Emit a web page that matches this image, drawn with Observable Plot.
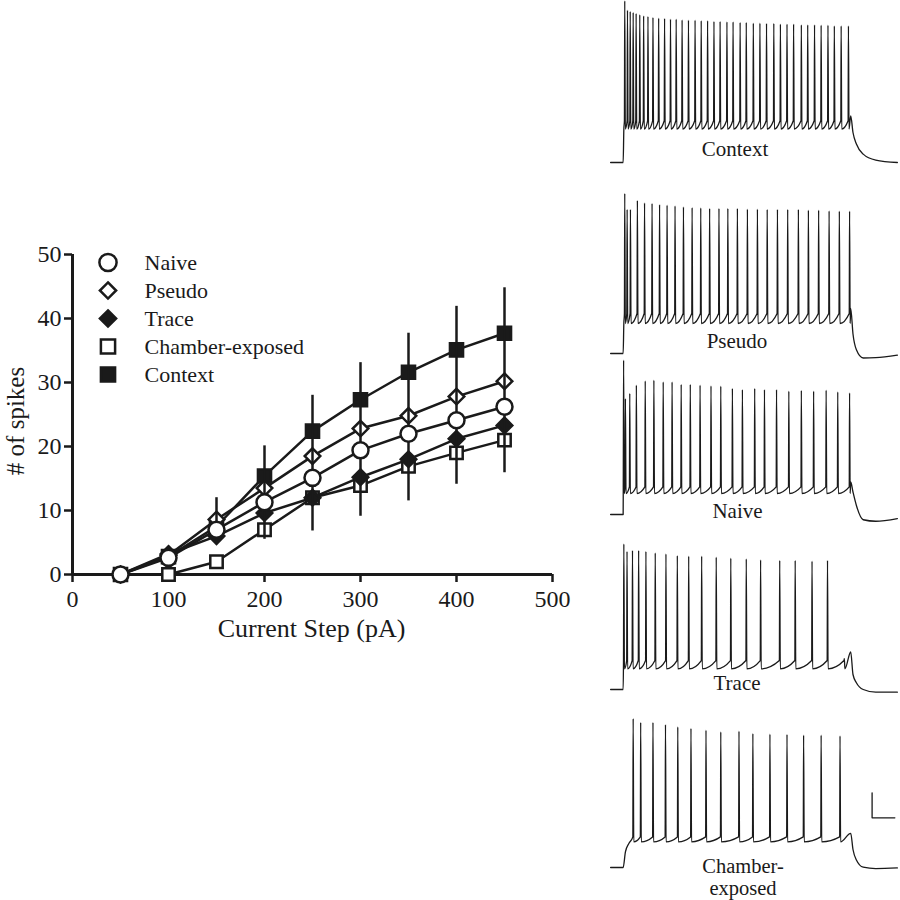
<!DOCTYPE html>
<html><head><meta charset="utf-8">
<script src="https://cdn.jsdelivr.net/npm/d3@7"></script>
<script src="https://cdn.jsdelivr.net/npm/@observablehq/plot@0.6"></script>
<style>
html,body{margin:0;padding:0;background:#fff;overflow:hidden;}
#fig{position:relative;width:900px;height:900px;font-family:"Liberation Serif","Times New Roman",serif;color:#1a1a1a;}
#fig > svg, #fig > div{position:absolute;}
.lbl{line-height:1;white-space:nowrap;text-align:center;}
</style></head><body><div id="fig"></div>
<script>
// ---------- Left chart data (# of spikes vs current step) ----------
const currents = [50, 100, 150, 200, 250, 300, 350, 400, 450];
const seriesNames = ["Naive", "Pseudo", "Trace", "Chamber-exposed", "Context"];
const naive   = [0, 2.6, 7.0, 11.3, 15.1, 19.4, 22.0, 24.1, 26.2];
const pseudo  = [0, 3.0, 8.6, 13.5, 18.5, 22.8, 24.8, 27.8, 30.2];
const trace   = [0, 3.2, 6.0, 9.6, 12.0, 15.2, 18.0, 21.2, 23.3];
const chamber = [0, 0.0, 2.0, 7.0, 12.0, 13.9, 16.9, 19.0, 21.0];
const context = [0, 2.8, 7.5, 15.4, 22.4, 27.3, 31.6, 35.1, 37.7];
const barTop    = [0, 3.5, 12.0, 20.1, 28.0, 33.1, 37.7, 41.9, 44.8];
const barBottom = [0, 2.0, 4.9, 5.5, 6.8, 9.1, 11.5, 14.1, 15.9];
const xTicks = [0, 100, 200, 300, 400, 500];
const yTicks = [0, 10, 20, 30, 40, 50];

// ---------- Right panel data (membrane potential traces) ----------
const traceNames = ["Context", "Pseudo", "Naive", "Trace", "Chamber-exposed"];
// spike times (ms from step onset) and spike peaks (mV)
const contextSpikeT = [7,19,31,44,57,73,90,109,131,156,182,208,233,259,287,316,343,371,399,426,456,483,514,541,572,601,630,662,691,720,749,783,811,841,870,900,928,958,990];
const contextSpikeV = [37.8,31.6,30.7,30.0,29.4,28.5,27.8,27.4,26.7,26.2,26.0,25.6,25.6,25.1,24.9,24.9,24.5,24.5,24.0,24.0,23.8,23.8,23.4,23.4,22.9,22.9,22.7,22.7,22.3,22.3,22.3,21.8,21.8,21.8,21.6,21.6,21.1,21.1,21.1];
const pseudoSpikeT = [7,17.5,32,62.5,94,127,160,193,228,265,303,341,380,421,460,502,546,590,633,678,723,770,814,859,905,950,995];
const pseudoSpikeV = [36.7,26,26,32,30.4,30,29.3,28.9,28.4,27.7,27.3,27.1,26.7,26.7,26.7,26.7,26.2,26.2,26,26,26,26,25.6,25.6,25.1,24.9,24.9];
const naiveSpikeT = [2,10,29,58,97,135,176,215,255,295,338,386,429,480,524,578,621,674,728,783,837,892,943,995];
const naiveSpikeV = [32.9,7.3,10.7,16.2,19.1,19.5,18.4,18.4,16.7,16.7,16.2,15.7,15.5,14,13.3,14,13.3,13.3,12.2,12.7,12.2,12.9,11.7,11.1];
const traceSpikeT = [3,17,41,68,100,141,188,238,288,345,409,473,541,604,688,756,830,898,972];
const traceSpikeV = [27.1,22,22.7,22.7,22,21.1,20.4,19.3,18.9,18.9,18.2,17.6,17.1,16.4,16,16,15.6,16,-49.5];
const chamberSpikeT = [44,77,131,186,240,298,364,429,509,570,645,720,793,870,953];
const chamberSpikeV = [29.3,26.7,26.7,25.3,23.7,22.7,21.5,20.4,20.9,19.3,18.9,18.7,18.2,18.2,17.7];
// inter-spike trough and threshold levels (mV), same order as traceNames
const ahpTrough = [-47.7, -50, -56, -56.2, -52.9];
const spikeThreshold = [-42.2, -43.3, -51.6, -50.7, -49.6];
// onset (rise) of each trace
const contextRiseT = [-55, 0, 3],      contextRiseV = [-70, -70, -48];
const pseudoRiseT  = [-55, 0, 3],      pseudoRiseV  = [-70, -70, -50];
const naiveRiseT   = [-55, 0],         naiveRiseV   = [-70, -70];
const traceRiseT   = [-55, 0],         traceRiseV   = [-70, -70];
const chamberRiseT = [-55, 0, 10, 25], chamberRiseV = [-70, -70, -59.6, -54];
// end of step and return to rest
const decayT = [1000, 1010, 1025, 1055, 1110, 1205];
const contextDecay = [-38.9, -50, -57.7, -64.4, -68.4, -70];
const pseudoDecay  = [-40, -57, -67.5, -73, -72.8, -71.1];
const naiveDecay   = [-48.3, -55, -64, -73.5, -74.5, -72.7];
const traceDecay   = [-45, -60, -65.5, -70, -71.8, -71.8];
const chamberDecay = [-47.3, -58, -65, -69.8, -70.7, -70.3];
// scale bar: 100 ms, 16.7 mV
const scaleBarSize = [100, 16.7];
const scaleBarAnchor = [1094, -36.9];

// ---------- layout ----------
const ink = "#1a1a1a";
const fig = document.getElementById("fig");
const serif = "'Liberation Serif','Times New Roman',serif";

// Left chart
const seriesValues = [naive, pseudo, trace, chamber, context];
const rows = seriesNames.flatMap((s, k) => currents.map((c, i) => ({series: s, current: c, spikes: seriesValues[k][i]})));
const bars = currents.map((c, i) => ({current: c, lo: barBottom[i], hi: barTop[i]})).filter(d => d.hi > d.lo);
const of = name => rows.filter(d => d.series === name);
const dotStyle = {x: "current", y: "spikes", stroke: ink, strokeWidth: 2.5};

const chart = Plot.plot({
  width: 580, height: 430,
  marginLeft: 72, marginRight: 28, marginTop: 24, marginBottom: 86,
  style: {fontFamily: serif, fontSize: "24px", background: "transparent", color: ink, overflow: "visible"},
  x: {domain: [0, 500]},
  y: {domain: [0, 50]},
  marks: [
    Plot.axisX({ticks: xTicks, tickSize: 8, tickPadding: 7, strokeWidth: 2.5, label: null, fontSize: 24, fill: ink}),
    Plot.axisY({ticks: yTicks, tickSize: 8, tickPadding: 3, strokeWidth: 2.5, label: null, fontSize: 24, fill: ink}),
    Plot.ruleX([0], {stroke: ink, strokeWidth: 3}),
    Plot.ruleY([0], {stroke: ink, strokeWidth: 3}),
    Plot.line(rows, {x: "current", y: "spikes", z: "series", stroke: ink, strokeWidth: 2.5}),
    Plot.dot(of("Context"), {...dotStyle, symbol: "square", r: 7.4, fill: ink}),
    Plot.dot(of("Chamber-exposed"), {...dotStyle, symbol: "square", r: 7, fill: "white"}),
    Plot.dot(of("Trace"), {...dotStyle, symbol: "diamond2", r: 7, fill: ink}),
    Plot.dot(of("Pseudo"), {...dotStyle, symbol: "diamond2", r: 7, fill: "white"}),
    Plot.ruleX(bars, {x: "current", y1: "lo", y2: "hi", stroke: ink, strokeWidth: 2.5}),
    Plot.dot(of("Naive"), {...dotStyle, symbol: "circle", r: 8, fill: "white"})
  ]
});
chart.style.left = "0px"; chart.style.top = "230px";
fig.appendChild(chart);

// Legend
const legendSymbol = {"Naive": ["circle", "white", 8.6], "Pseudo": ["diamond2", "white", 7.3], "Trace": ["diamond2", ink, 7.3],
  "Chamber-exposed": ["square", "white", 8], "Context": ["square", ink, 8]};
const legend = Plot.plot({
  width: 240, height: 145, margin: 0, marginLeft: 17.5,
  style: {fontFamily: serif, background: "transparent", color: ink, overflow: "visible"},
  y: {type: "point", domain: seriesNames, range: [15, 130], padding: 0, axis: null},
  marks: [
    ...seriesNames.map(s => Plot.dot([s], {y: d => d, frameAnchor: "left", symbol: legendSymbol[s][0], fill: legendSymbol[s][1], r: legendSymbol[s][2], stroke: ink, strokeWidth: 2.5})),
    Plot.text(seriesNames, {y: d => d, text: d => d, frameAnchor: "left", textAnchor: "start", dx: 36.5, fontSize: 22, fill: ink})
  ]
});
legend.style.left = "90px"; legend.style.top = "245px";
fig.appendChild(legend);

// axis titles
function addLabel(html, cx, baseline, fs, lineHeight) {
  const d = document.createElement("div");
  d.className = "lbl";
  d.innerHTML = html;
  d.style.fontSize = fs + "px";
  d.style.left = cx + "px";
  if (lineHeight) d.style.lineHeight = lineHeight + "px";
  const lh = lineHeight || fs;
  d.style.top = (baseline - (lh - 1.107 * fs) / 2 - 0.891 * fs) + "px";
  d.style.transform = "translateX(-50%)";
  fig.appendChild(d);
  return d;
}
addLabel("Current Step (pA)", 311.5, 638, 26);
const yl = document.createElement("div");
yl.className = "lbl"; yl.textContent = "# of spikes";
Object.assign(yl.style, {fontSize: "25px", left: "14.5px", top: "421px", transform: "translate(-50%,-50%) rotate(-90deg)"});
fig.appendChild(yl);

// Traces
function buildTrace(riseT, riseV, spikeT, spikeV, trough, thr, decayV) {
  const pts = riseT.map((t, i) => ({t, v: riseV[i]}));
  spikeT.forEach((t, i) => {
    pts.push({t: t - 1.5, v: thr}, {t, v: spikeV[i]}, {t: t + 2.5, v: trough});
  });
  decayT.forEach((t, i) => pts.push({t, v: decayV[i]}));
  return pts;
}
const traceData = [
  buildTrace(contextRiseT, contextRiseV, contextSpikeT, contextSpikeV, ahpTrough[0], spikeThreshold[0], contextDecay),
  buildTrace(pseudoRiseT, pseudoRiseV, pseudoSpikeT, pseudoSpikeV, ahpTrough[1], spikeThreshold[1], pseudoDecay),
  buildTrace(naiveRiseT, naiveRiseV, naiveSpikeT, naiveSpikeV, ahpTrough[2], spikeThreshold[2], naiveDecay),
  buildTrace(traceRiseT, traceRiseV, traceSpikeT, traceSpikeV, ahpTrough[3], spikeThreshold[3], traceDecay),
  buildTrace(chamberRiseT, chamberRiseV, chamberSpikeT, chamberSpikeV, ahpTrough[4], spikeThreshold[4], chamberDecay)
];
const panelTop = [-3.3, 188.3, 349.3, 524, 702.3];
traceNames.forEach((name, k) => {
  const marks = [Plot.line(traceData[k], {x: "t", y: "v", curve: "monotone-x", stroke: ink, strokeWidth: 1.3})];
  if (name === "Chamber-exposed") {
    const [t0, v0] = scaleBarAnchor;
    marks.push(Plot.line([{t: t0, v: v0 + scaleBarSize[1]}, {t: t0, v: v0}, {t: t0 + scaleBarSize[0], v: v0}],
      {x: "t", y: "v", stroke: ink, strokeWidth: 1.3}));
  }
  const p = Plot.plot({
    width: 300, height: 180, margin: 0,
    style: {background: "transparent", overflow: "visible"},
    x: {domain: [-60, 1210], range: [9, 298], axis: null},
    y: {domain: [-80, 40], axis: null},
    marks
  });
  p.style.left = "600px"; p.style.top = panelTop[k] + "px";
  fig.appendChild(p);
});
// trace labels
const traceLabelText = ["Context", "Pseudo", "Naive", "Trace"];
const traceLabelPos = [[735, 156.7], [737, 348.5], [737.5, 518.3], [737, 691]];
traceLabelText.forEach((t, i) => addLabel(t, traceLabelPos[i][0], traceLabelPos[i][1], 21));
addLabel("Chamber-<br>exposed", 743, 873, 20.5, 22);
</script></body></html>
